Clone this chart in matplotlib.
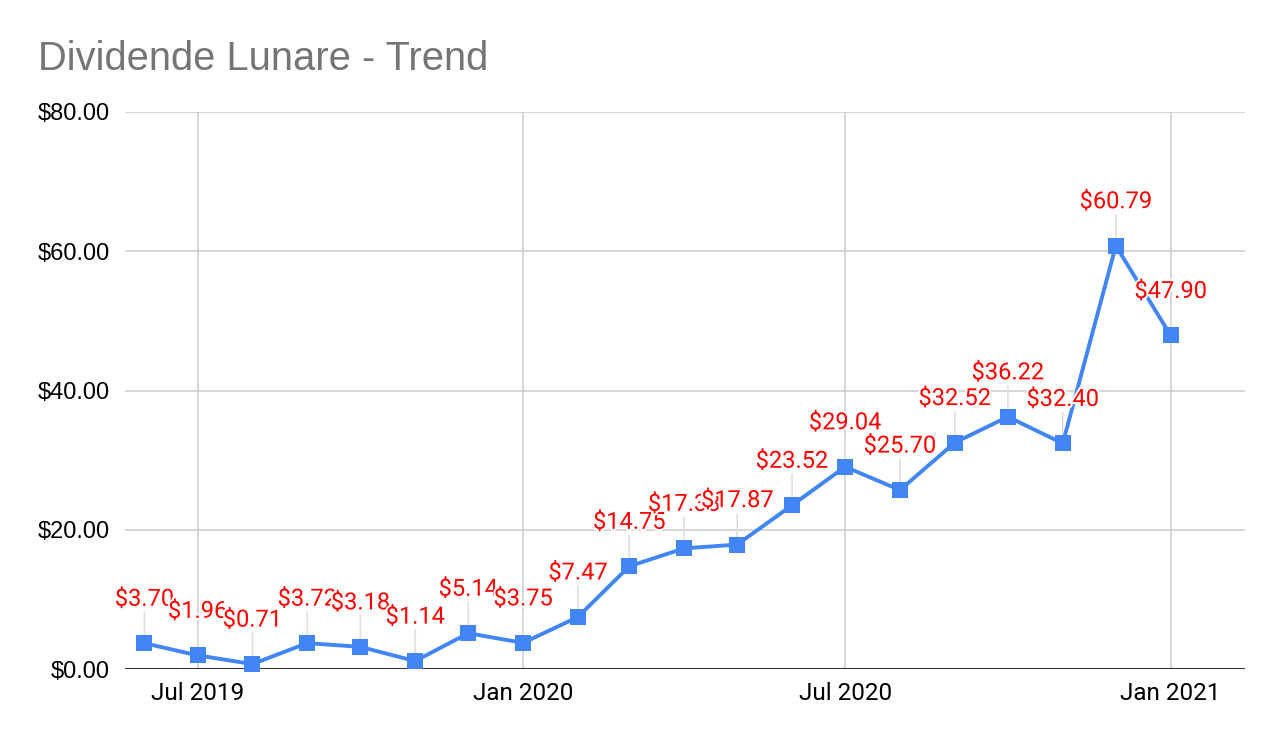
import matplotlib
matplotlib.use("Agg")
import matplotlib.pyplot as plt
import matplotlib.patheffects as pe
from matplotlib.ticker import FuncFormatter
import datetime as dt

# monthly dividends, Jun 2019 .. Jan 2021
months = ["2019-06", "2019-07", "2019-08", "2019-09", "2019-10", "2019-11", "2019-12",
          "2020-01", "2020-02", "2020-03", "2020-04", "2020-05", "2020-06", "2020-07",
          "2020-08", "2020-09", "2020-10", "2020-11", "2020-12", "2021-01"]
dividends = [3.70, 1.96, 0.71, 3.72, 3.18, 1.14, 5.14,
             3.75, 7.47, 14.75, 17.33, 17.87, 23.52, 29.04,
             25.70, 32.52, 36.22, 32.40, 60.79, 47.90]
xtick_dates = ["2019-07", "2020-01", "2020-07", "2021-01"]
xtick_labels = ["Jul 2019", "Jan 2020", "Jul 2020", "Jan 2021"]
ytick_values = [0, 20, 40, 60, 80]
title = "Dividende Lunare - Trend"

dates = [dt.datetime.strptime(m, "%Y-%m") for m in months]
tick_dates = [dt.datetime.strptime(m, "%Y-%m") for m in xtick_dates]

W, H = 1282, 742
fig = plt.figure(figsize=(W / 100, H / 100), dpi=100)
ax = fig.add_axes([125 / W, (H - 669) / H, (1245 - 125) / W, (669 - 112) / H])

blue = "#4285F4"
ax.plot(dates, dividends, color=blue, lw=2.8, marker="s", ms=11,
        markeredgewidth=0, zorder=4, clip_on=False)

# grey stems under the labels
for d, v in zip(dates, dividends):
    ax.annotate("", xy=(d, v), xytext=(0, 31 * 0.72), textcoords="offset points",
                arrowprops=dict(arrowstyle="-", color="#e0e0e0", lw=1.2,
                                shrinkA=0, shrinkB=0),
                zorder=2, annotation_clip=False)

# value labels with white halo
for d, v in zip(dates, dividends):
    ax.annotate(f"${v:.2f}", xy=(d, v), xytext=(0, 44 * 0.72), textcoords="offset points",
                ha="center", va="center", color="#ff0000", fontsize=17,
                fontfamily="Roboto", zorder=6, annotation_clip=False,
                path_effects=[pe.withStroke(linewidth=3, foreground="white")])

ax.set_xlim(dt.datetime(2019, 5, 21), dt.datetime(2021, 2, 12))
ax.set_ylim(0, 80)
ax.set_yticks(ytick_values)
ax.yaxis.set_major_formatter(FuncFormatter(lambda y, _: f"${y:.2f}"))
ax.set_xticks(tick_dates)
ax.set_xticklabels(xtick_labels)

ax.grid(True, color="#cccccc", lw=1.1, zorder=0)
ax.set_axisbelow(True)
ax.axhline(0, color="#333333", lw=1.5, zorder=3)
for s in ax.spines.values():
    s.set_visible(False)
ax.tick_params(axis="both", length=0)
ax.tick_params(axis="y", pad=10.8, labelsize=17, labelcolor="#000000")
ax.tick_params(axis="x", pad=9.5, labelsize=17.5, labelcolor="#000000")
for lab in ax.get_yticklabels():
    lab.set_fontfamily("Liberation Sans")
for lab in ax.get_xticklabels():
    lab.set_fontfamily("Roboto")

fig.text(38 / W, 1 - 70 / H, title, fontsize=28.7, color="#757575",
         fontfamily="Liberation Sans", ha="left", va="baseline")

fig.savefig("out.png", dpi=100, facecolor="white")
